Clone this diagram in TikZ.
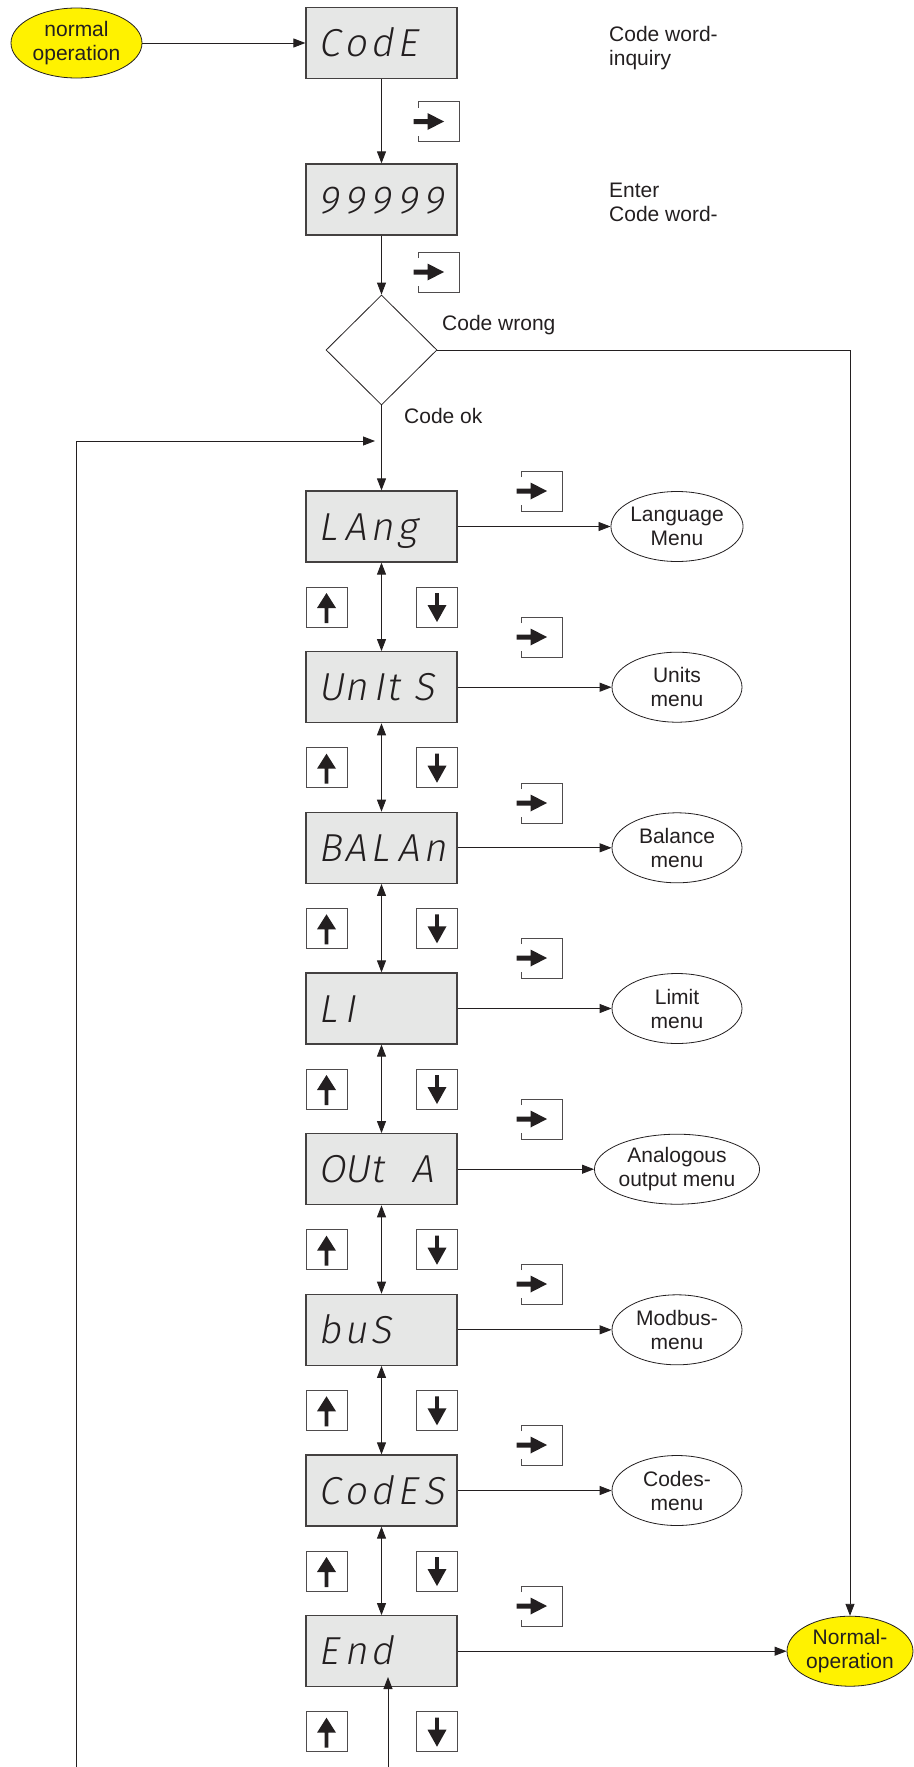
\documentclass[tikz,border=0pt]{standalone}
\usepackage{fontspec}
\setmainfont{Liberation Sans}
\IfFontExistsTF{Fira Sans Light}
  {\newfontfamily\segfont{Fira Sans Light}[FakeSlant=0.18]}
  {\newfontfamily\segfont{DejaVu Sans Mono}[FakeSlant=0.18]}
\usetikzlibrary{shapes.geometric,arrows.meta}
\definecolor{boxgray}{RGB}{230,231,230}
\definecolor{yel}{RGB}{255,242,0}
\definecolor{ink}{RGB}{35,31,32}
\newcommand\cc[1]{\makebox[26.5pt][l]{#1}}
\tikzset{
  enterkey/.pic={
    \draw[draw=ink!80, line width=1pt] (-20.5,-14) -- (-20.5,-20) -- (20.5,-20) -- (20.5,20) -- (-20.5,20) -- (-20.5,14);
    \fill[ink] (-25,-2.5) -- (-11,-2.5) -- (-11,-8.5) -- (5.5,0) -- (-11,8.5) -- (-11,2.5) -- (-25,2.5) -- cycle;
  },
  upkey/.pic={
    \draw[draw=ink!80, line width=1pt, fill=white] (-20.5,-20) rectangle (20.5,20);
    \fill[ink] (0,-14) -- (9.5,1) -- (1.8,1) -- (1.8,16) -- (-1.8,16) -- (-1.8,1) -- (-9.5,1) -- cycle;
  },
  downkey/.pic={
    \draw[draw=ink!80, line width=1pt, fill=white] (-20.5,-20) rectangle (20.5,20);
    \fill[ink] (0,15) -- (9.5,-2) -- (1.8,-2) -- (1.8,-14) -- (-1.8,-14) -- (-1.8,-2) -- (-9.5,-2) -- cycle;
  }
}
\begin{document}
\begin{tikzpicture}[x=1pt,y=-1pt,
  every node/.style={font=\fontsize{21pt}{24pt}\selectfont, text=ink},
  conn/.style={draw=ink, line width=0.9pt},
  arr/.style={conn, -{Triangle[length=12pt,width=9pt]}},
  darr/.style={conn, {Triangle[length=12pt,width=9pt]}-{Triangle[length=12pt,width=9pt]}},
  disp/.style={draw=ink!85, line width=1.2pt, fill=boxgray, minimum width=151pt, minimum height=71pt,
    inner xsep=12pt, inner ysep=0pt, text width=127pt, align=left, text height=27pt, text depth=0pt,
    font=\segfont\fontsize{39pt}{39pt}\selectfont},
  menu/.style={ellipse, draw=ink, line width=0.8pt, fill=white, minimum width=130pt, minimum height=70pt, inner sep=0pt, align=center},
  yellip/.style={menu, fill=yel},
  note/.style={inner sep=0pt, align=left},
  decision/.style={diamond, draw=ink, line width=0.8pt, minimum width=111pt, minimum height=110pt, inner sep=0pt}
]
\useasboundingbox (0,0) rectangle (913,1767);

% start
\node[yellip, minimum width=131pt] (norm) at (76.5,43) {normal\\operation};
\node[disp] (code) at (381.5,43) {\cc{C}\cc{o}\cc{d}\cc{E}};
\node[disp] (nine) at (381.5,199.5) {\cc{9}\cc{9}\cc{9}\cc{9}\cc{9}};
\node[decision] (dia) at (381.5,350) {};

\node[note, anchor=north west] (t1) at (609,26.5) {Code word-\\inquiry};
\node[note, anchor=north west] (t2) at (609,182.5) {Enter\\Code word-};
\node[note, anchor=base west] (t3) at (442,330) {Code wrong};
\node[note, anchor=base west] (t4) at (404,423) {Code ok};

% menu boxes
\node[disp] (lang) at (381.5,526.5) {\cc{L}\cc{A}\cc{n}\cc{g}};
\node[disp] (units) at (381.5,687.2) {\cc{U}\cc{n}\makebox[16pt][l]{\hspace{3pt}I}\cc{t}\cc{S}};
\node[disp] (balan) at (381.5,847.8) {\cc{B}\cc{A}\cc{L}\cc{A}\cc{n}};
\node[disp] (li) at (381.5,1008.5) {\cc{L}\cc{I}};
\node[disp] (outa) at (381.5,1169.2) {\cc{O}\cc{U}\cc{t}\hspace{14pt}\cc{A}};
\node[disp] (bus) at (381.5,1329.8) {\cc{b}\cc{u}\cc{S}};
\node[disp] (codes) at (381.5,1490.5) {\cc{C}\cc{o}\cc{d}\cc{E}\cc{S}};
\node[disp] (endb) at (381.5,1651.2) {\cc{E}\cc{n}\cc{d}};

% menus
\node[menu] (m1) at (677,526.5) {Language\\Menu};
\node[menu] (m2) at (677,687.2) {Units\\menu};
\node[menu] (m3) at (677,847.8) {Balance\\menu};
\node[menu] (m4) at (677,1008.5) {Limit\\menu};
\node[menu] (m5) at (677,1169.2) {Analogous\\output menu};
\node[menu] (m6) at (677,1329.8) {Modbus-\\menu};
\node[menu] (m7) at (677,1490.5) {Codes-\\menu};
\node[yellip, minimum width=126pt] (normop) at (850,1651.2) {Normal-\\operation};

% free ends
\coordinate (loopbot) at (76,1767);
\coordinate (loopin) at (375,441);
\coordinate (endbot) at (388,1767);
\coordinate (endin) at (388,1677);

% connectors
\draw[arr] (norm) -- (code);
\draw[arr] (code) -- (nine);
\draw[arr] (nine) -- (dia.north);
\draw[arr] (dia.south) -- (lang);
\draw[arr] (dia.east) -| (normop.north);
\draw[arr] (loopbot) |- (loopin);
\draw[arr] (endbot) -- (endin);

\draw[darr] (lang) -- (units);
\draw[darr] (units) -- (balan);
\draw[darr] (balan) -- (li);
\draw[darr] (li) -- (outa);
\draw[darr] (outa) -- (bus);
\draw[darr] (bus) -- (codes);
\draw[darr] (codes) -- (endb);

\draw[arr] (lang) -- (m1);
\draw[arr] (units) -- (m2);
\draw[arr] (balan) -- (m3);
\draw[arr] (li) -- (m4);
\draw[arr] (outa) -- (m5);
\draw[arr] (bus) -- (m6);
\draw[arr] (codes) -- (m7);
\draw[arr] (endb) -- (normop);

% enter keys
\foreach \x/\y in {438.5/121.5, 438.5/272, 541.5/491, 541.5/637, 541.5/803, 541.5/958, 541.5/1119, 541.5/1284, 541.5/1445, 541.5/1606}
  \pic at (\x,\y) {enterkey};
% up/down keys
\foreach \y in {607, 767.7, 928.3, 1089, 1249.7, 1410.3, 1571, 1731.7} {
  \pic at (326.5,\y) {upkey};
  \pic at (437,\y) {downkey};
}
\end{tikzpicture}
\end{document}
